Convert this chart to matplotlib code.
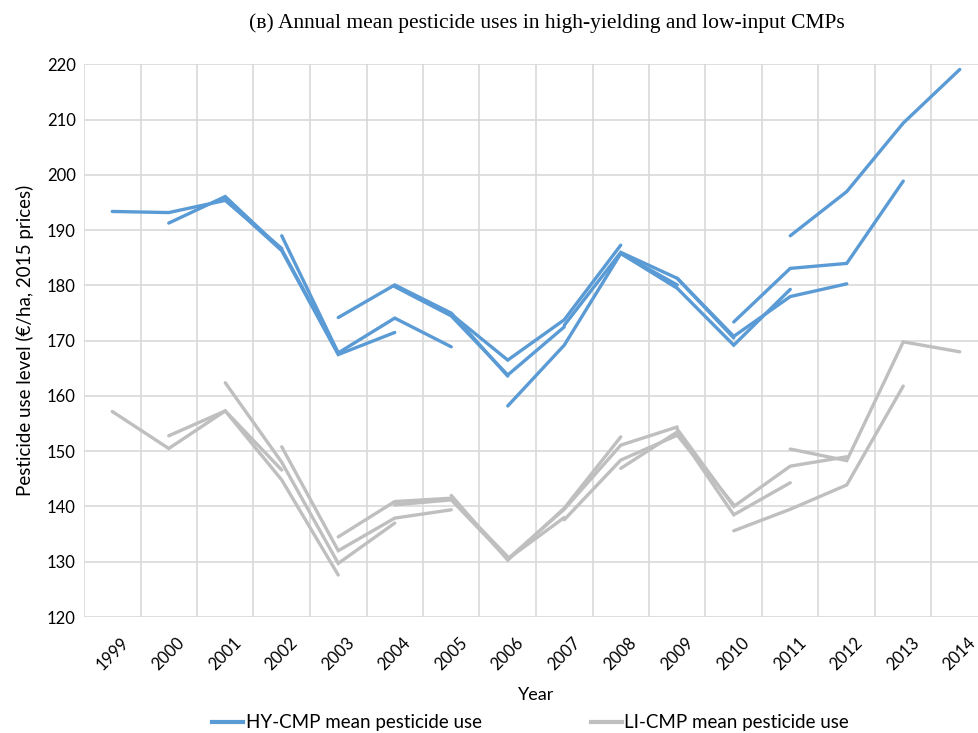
import numpy as np
import matplotlib
matplotlib.use("Agg")
import matplotlib.pyplot as plt
from matplotlib.lines import Line2D
from matplotlib.ticker import MultipleLocator

years = list(range(1999, 2015))
panel_starts = list(range(1999, 2012))  # each panel covers 4 consecutive years

# HY-CMP mean pesticide use per panel (EUR/ha, 2015 prices)
hy_panels = [
    [193.4, 193.2, 195.4, 186.7],
    [191.3, 196.1, 186.5, 167.7],
    [195.6, 186.3, 167.5, 171.5],
    [189.0, 167.8, 174.1, 168.9],
    [174.2, 180.1, 175.0, 163.6],
    [179.8, 174.5, 163.8, 172.5],
    [174.8, 166.5, 173.8, 187.3],
    [158.2, 169.2, 185.8, 180.1],
    [172.8, 186.0, 181.3, 170.5],
    [185.8, 179.5, 169.2, 179.3],
    [181.3, 170.8, 178.0, 180.3],
    [173.4, 183.1, 184.0, 198.9],
    [189.0, 197.0, 209.4, 219.1],
]

# LI-CMP mean pesticide use per panel
li_panels = [
    [157.2, 150.5, 157.3, 146.6],
    [152.8, 157.3, 144.8, 127.6],
    [162.4, 148.0, 129.7, 137.0],
    [150.8, 132.0, 137.9, 139.4],
    [134.5, 140.9, 141.5, 130.9],
    [140.3, 141.2, 130.5, 138.0],
    [142.0, 130.3, 139.7, 152.6],
    [130.5, 139.5, 151.1, 154.4],
    [137.6, 148.4, 152.9, 140.3],
    [146.9, 153.5, 138.5, 144.3],
    [154.0, 140.0, 147.3, 149.0],
    [135.6, 139.5, 143.9, 161.8],
    [150.4, 148.3, 169.8, 168.0],
]

blue = "#5B9BD5"
grey = "#BFBFBF"
label_font = ["Lato", "DejaVu Sans"]

fig = plt.figure(figsize=(9.79, 7.33), dpi=100)
ax = fig.add_axes([84 / 979, 1 - 617 / 733, (988 - 84) / 979, (617 - 64.5) / 733])

for start, vals in zip(panel_starts, hy_panels):
    xs = [years.index(start + k) for k in range(len(vals))]
    ax.plot(xs, vals, color=blue, lw=2.4, solid_capstyle="round", solid_joinstyle="miter", zorder=3)
for start, vals in zip(panel_starts, li_panels):
    xs = [years.index(start + k) for k in range(len(vals))]
    ax.plot(xs, vals, color=grey, lw=2.4, solid_capstyle="round", solid_joinstyle="miter", zorder=2)

ax.set_xlim(-0.5, len(years) - 0.5)
ax.set_ylim(120, 220)
ax.yaxis.set_major_locator(MultipleLocator(10))
ax.set_xticks(range(len(years)))
ax.set_xticklabels([str(y) for y in years], rotation=45, ha="center", fontsize=12, family=label_font)
ax.set_xticks(np.arange(-0.5, len(years), 1), minor=True)
ax.tick_params(axis="x", which="both", length=0, pad=13)
ax.tick_params(axis="y", length=0, pad=6, labelsize=12)
for t in ax.get_yticklabels():
    t.set_family(label_font)
ax.grid(axis="y", which="major", color="#D9D9D9", lw=1.2)
ax.grid(axis="x", which="minor", color="#D9D9D9", lw=1.2)
for s in ax.spines.values():
    s.set_visible(False)

ax.set_xlabel("Year", fontsize=13, family=label_font, labelpad=10)
ax.set_ylabel("Pesticide use level (€/ha, 2015 prices)", fontsize=13.5, family=label_font, labelpad=9)

fig.text(0.559, 0.968, "(ʙ) Annual mean pesticide uses in high-yielding and low-input CMPs",
         ha="center", va="center", fontsize=15.5, family=["Liberation Serif", "DejaVu Serif"])

handles = [Line2D([], [], color=blue, lw=3), Line2D([], [], color=grey, lw=3)]
fig.legend(handles, ["HY-CMP mean pesticide use", "LI-CMP mean pesticide use"],
           loc="center", bbox_to_anchor=(0.542, 0.014), ncol=2, frameon=False,
           handlelength=1.65, handletextpad=0.15, columnspacing=5.8,
           prop={"family": label_font, "size": 13.5})

fig.savefig("out.png", dpi=100)
